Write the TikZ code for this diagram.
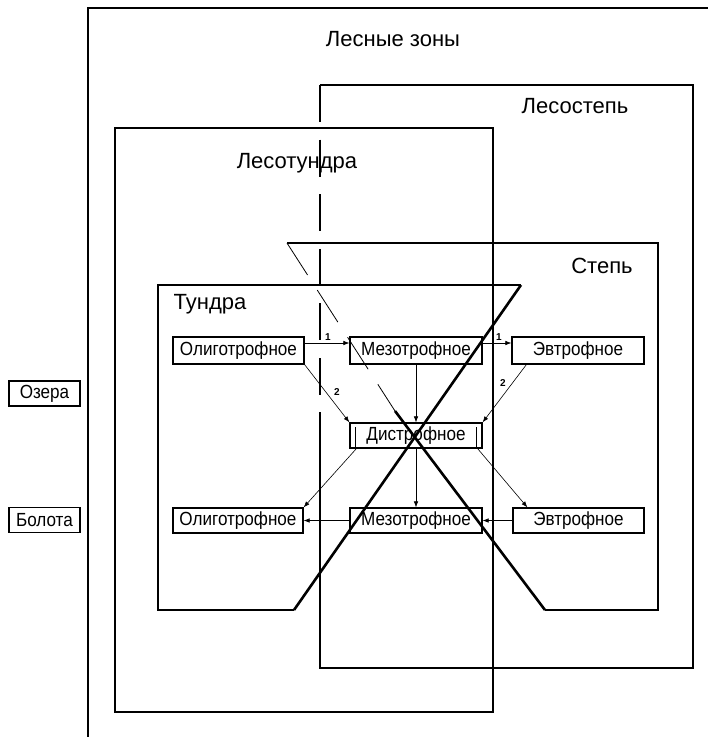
\documentclass[tikz,border=0pt]{standalone}
\usepackage{fontspec}
\setmainfont{Liberation Sans}
\newfontfamily\narrowf[FakeStretch=0.9]{Liberation Sans}
\usetikzlibrary{arrows.meta}
\begin{document}
\begin{tikzpicture}[x=1pt,y=-1pt,
  zone/.style={line width=1.5pt},
  crossline/.style={line width=2.6pt},
  thinline/.style={line width=0.8pt},
  box/.style={draw, line width=1.3pt, minimum height=26pt, inner sep=0pt,
    font=\narrowf\fontsize{19}{19}\selectfont},
  title/.style={inner sep=0pt, font=\fontsize{22}{22}\selectfont},
  arr/.style={line width=0.6pt, -{Latex[length=6pt,width=4.5pt]}},
  num/.style={inner sep=0pt, font=\bfseries\fontsize{10}{10}\selectfont}]
\useasboundingbox (0,0) rectangle (708,737);

% zones
\draw[zone] (88,737) -- (88,8) -- (708,8);
\draw[zone] (115,128) rectangle (493,712);
\draw[zone, dash pattern=on 37pt off 17.6pt] (320,85) -- (320,412);
\draw[zone] (320,412) -- (320,668) -- (693,668) -- (693,85) -- (320,85);
\draw[zone] (521,285) -- (158,285) -- (158,610) -- (294,610);
\draw[crossline] (294,610) -- (521,285);
\draw[zone] (287,243) -- (658,243) -- (658,610) -- (545,610);
\draw[crossline] (545,610) -- (395,411);
\draw[thinline, dash pattern=on 38pt off 18pt] (287,243) -- (395,411);

% titles
\node[title] (lz) at (393,39) {Лесные зоны};
\node[title] (ls) at (575,106) {Лесостепь};
\node[title] (lt) at (297,163) {Лесотундра};
\node[title] (st) at (602,266) {Степь};
\node[title] (tu) at (210,304) {Тундра};

% boxes
\node[box, minimum width=71pt, minimum height=25pt] (lake) at (44.5,393.5) {Озера};
\node[box, minimum width=71pt, minimum height=25pt] (swamp) at (44.5,520) {Болота};
\node[box, minimum width=131pt, minimum height=27pt] (o1) at (238.5,350.5) {Олиготрофное};
\node[box, minimum width=132pt, minimum height=27pt] (m1) at (416,350.5) {Мезотрофное};
\node[box, minimum width=132pt, minimum height=27pt] (e1) at (578,350.5) {Эвтрофное};
\node[box, minimum width=132pt, minimum height=25pt] (d) at (416,435.5) {Дистрофное};
\node[box, minimum width=130pt, minimum height=25pt] (o2) at (238,520.5) {Олиготрофное};
\node[box, minimum width=132pt, minimum height=25pt] (m2) at (416,520.5) {Мезотрофное};
\node[box, minimum width=131pt, minimum height=25pt] (e2) at (578.5,520.5) {Эвтрофное};
\draw[line width=1pt] ([xshift=6pt,yshift=-5pt]d.north west) -- ([xshift=6pt]d.south west);
\draw[line width=1pt] ([xshift=-6pt,yshift=-5pt]d.north east) -- ([xshift=-6pt]d.south east);

% arrows
\draw[arr] ([yshift=7.5pt]o1.east) -- ([yshift=7.5pt]m1.west);
\draw[arr] ([yshift=7.5pt]m1.east) -- ([yshift=7.5pt]e1.west);
\draw[arr] (o1.south east) -- (d.north west);
\draw[arr] ([xshift=15pt]e1.south west) -- (d.north east);
\draw[arr] (m1.south) -- (d.north);
\draw[arr] (d.south) -- (m2.north);
\draw[arr] ([xshift=7pt]d.south west) -- (o2.north east);
\draw[arr] ([xshift=-5pt]d.south east) -- ([xshift=15pt]e2.north west);
\draw[arr] (m2.west) -- (o2.east);
\draw[arr] (e2.west) -- (m2.east);

\node[num] (n1) at (328,337) {1};
\node[num] (n2) at (499,337) {1};
\node[num] (n3) at (337,392) {2};
\node[num] (n4) at (503,383) {2};
\end{tikzpicture}
\end{document}
